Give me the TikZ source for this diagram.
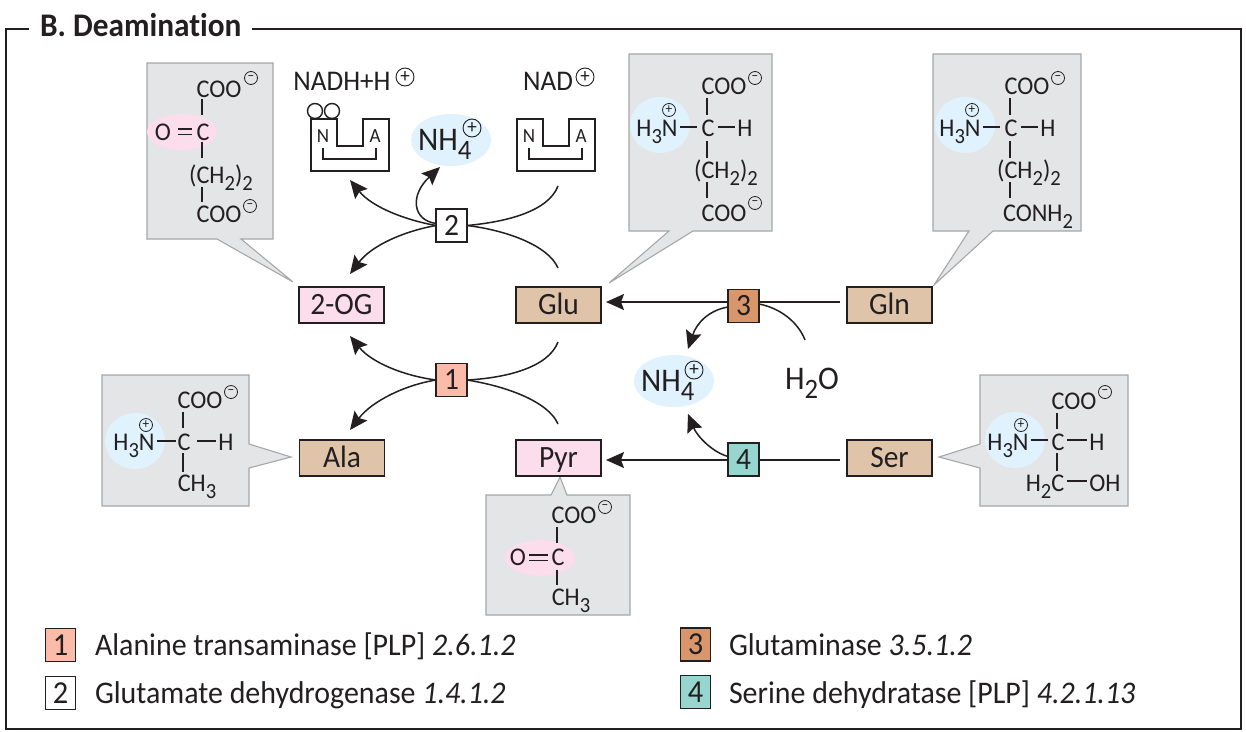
\documentclass[tikz,border=0pt]{standalone}
\usepackage{fontspec}
\setmainfont[FakeStretch=0.95,Ligatures=NoCommon]{Carlito}
\usetikzlibrary{arrows.meta,shapes.geometric}
\definecolor{ink}{HTML}{231F20}
\definecolor{pinkbox}{HTML}{FBDDEC}
\definecolor{tanbox}{HTML}{E0C4AA}
\definecolor{salmon}{HTML}{FBBBA9}
\definecolor{orangebox}{HTML}{D9966B}
\definecolor{tealbox}{HTML}{97D6CF}
\definecolor{greyfill}{HTML}{E4E5E7}
\definecolor{greyline}{HTML}{A5A7A9}
\definecolor{halo}{HTML}{DFF2FD}
\newcommand\sbs[1]{\raisebox{-.3em}{\scalebox{.85}{#1}}}
\newcommand\fs[1]{\fontsize{#1pt}{#1pt}\selectfont}
\tikzset{
  x=1pt,y=-1pt,
  every node/.style={text=ink,inner sep=0pt,outer sep=0pt},
  metab/.style={draw=ink,line width=1.2pt,minimum width=85pt,minimum height=36pt,text height=19pt,text depth=0pt,font=\fs{31}},
  enz/.style={draw=ink,line width=1.1pt,minimum width=31pt,minimum height=33pt,text height=19pt,text depth=0pt,font=\fs{31}},
  legbox/.style={draw=ink,line width=1.1pt,minimum width=30pt,minimum height=33pt,text height=20pt,text depth=0pt,font=\fs{32}},
  legtext/.style={anchor=base west,font=\fs{31.5}},
  chem/.style={text height=16pt,text depth=0pt,font=\fs{25.5}},
  lab/.style={text height=17pt,text depth=0pt,font=\fs{28.5}},
  minusc/.style={circle,draw=ink,line width=.8pt,minimum size=13pt,font=\fs{14}},
  plusc/.style={circle,draw=ink,line width=.8pt,minimum size=13pt,font=\fs{14}},
  plusb/.style={circle,draw=ink,line width=.9pt,minimum size=18pt,font=\fs{20}},
  callout/.style={draw=greyline,fill=greyfill,line width=1.1pt,line join=miter},
  bond/.style={draw=ink,line width=1.5pt},
  flow/.style={draw=ink,line width=1.5pt},
  flowtip/.style={flow,-{Stealth[length=18pt,width=16pt,inset=3pt]}},
  halon/.style={ellipse,fill=halo,minimum width=60pt,minimum height=56pt},
  oxo/.style={ellipse,fill=pinkbox,minimum width=70pt,minimum height=36pt},
  bigamm/.style={ellipse,fill=halo,minimum width=80pt,minimum height=52pt},
  nh/.style={anchor=base west,font=\fs{33}},
  enzy/.style={draw=ink,line width=1.6pt,line join=miter},
  enzi/.style={draw=ink,line width=1.2pt},
  cof/.style={circle,draw=ink,line width=1.4pt,minimum size=15pt},
  nalet/.style={font=\fs{20},text height=12pt,text depth=0pt}
}
\begin{document}
\begin{tikzpicture}
\useasboundingbox (0,0) rectangle (1246,731);
\fill[white] (0,0) rectangle (1246,731);
% frame
\draw[draw=ink,line width=2pt,line join=miter] (29,29) -- (6,29) -- (6,729) -- (1241,729) -- (1241,29) -- (252,29);
\node[anchor=base west,font=\fs{33}\bfseries] (title) at (40,36) {B. Deamination};
% callouts
\draw[callout] (147,63) -- (273,63) -- (273,239) -- (241,239) -- (293,282) -- (217,239) -- (147,239) -- cycle;
\draw[callout] (629,54) -- (772,54) -- (772,231) -- (693,231) -- (609,283) -- (669,231) -- (629,231) -- cycle;
\draw[callout] (933,54) -- (1081,54) -- (1081,231) -- (993,231) -- (934,285) -- (969,231) -- (933,231) -- cycle;
\draw[callout] (102,375) -- (249,375) -- (249,444) -- (291,457) -- (249,468) -- (249,506) -- (102,506) -- cycle;
\draw[callout] (486,495) -- (551,495) -- (560,477) -- (567,495) -- (630,495) -- (630,615) -- (486,615) -- cycle;
\draw[callout] (980,375) -- (1128,375) -- (1128,506) -- (980,506) -- (980,468) -- (939,457) -- (980,444) -- cycle;
% halos
\node[oxo] (ogoxo) at (182,132) {};
\node[oxo] (pyroxo) at (540,558) {};
\node[halon] (gluh) at (660,125) {};
\node[halon] (glnh) at (965,125) {};
\node[halon] (alah) at (135,441) {};
\node[halon] (serh) at (1015,440) {};
\node[bigamm] (amma) at (451,140) {};
\node[bigamm] (ammb) at (674,381) {};
% 2-OG formula
\node[chem] (ogc1) at (219,89) {COO};
\node[minusc] (ogm1) at (251,78) {−};
\draw[bond] (202,99) -- (202,115);
\node[chem] (ogo) at (163,132) {O};
\draw[bond] (178,129) -- (192,129) (178,134.5) -- (192,134.5);
\node[chem] (ogc) at (203,132) {C};
\draw[bond] (202,142) -- (202,158);
\node[chem] (ogch) at (221,175) {(CH\sbs{2})\sbs{2}};
\draw[bond] (202,187) -- (202,202);
\node[chem] (ogc2) at (219,214) {COO};
\node[minusc] (ogm2) at (250,206) {−};
% Glu formula
\node[chem] (guc1) at (724,86) {COO};
\node[minusc] (gum1) at (755,78) {−};
\draw[bond] (707,98) -- (707,115);
\node[chem] (gun) at (657,128) {H\sbs{3}N};
\node[plusc] (gup) at (669,110) {+};
\draw[bond] (680,127) -- (697,127);
\node[chem] (guc) at (708,128) {C};
\draw[bond] (718,127) -- (735,127);
\node[chem] (guh) at (745,128) {H};
\draw[bond] (707,141) -- (707,158);
\node[chem] (guch) at (726,170) {(CH\sbs{2})\sbs{2}};
\draw[bond] (707,182) -- (707,198);
\node[chem] (guc2) at (724,213) {COO};
\node[minusc] (gum2) at (755,203) {−};
% Gln formula
\node[chem] (gnc1) at (1027,86) {COO};
\node[minusc] (gnm1) at (1058,78) {−};
\draw[bond] (1010,98) -- (1010,115);
\node[chem] (gnn) at (960,128) {H\sbs{3}N};
\node[plusc] (gnp) at (972,110) {+};
\draw[bond] (983,127) -- (1000,127);
\node[chem] (gnc) at (1011,128) {C};
\draw[bond] (1021,127) -- (1038,127);
\node[chem] (gnh) at (1048,128) {H};
\draw[bond] (1010,141) -- (1010,158);
\node[chem] (gnch) at (1029,170) {(CH\sbs{2})\sbs{2}};
\draw[bond] (1010,182) -- (1010,198);
\node[chem] (gnc2) at (1038,213) {CONH\sbs{2}};
% Ala formula
\node[chem] (alc1) at (200,400) {COO};
\node[minusc] (alm1) at (231,392) {−};
\draw[bond] (183,412) -- (183,428);
\node[chem] (aln) at (134,442) {H\sbs{3}N};
\node[plusc] (alp) at (146,425) {+};
\draw[bond] (157,441) -- (176,441);
\node[chem] (alc) at (184,442) {C};
\draw[bond] (197,441) -- (216,441);
\node[chem] (alhh) at (226,442) {H};
\draw[bond] (183,453) -- (183,472);
\node[chem] (alc3) at (197,483) {CH\sbs{3}};
% Pyr formula
\node[chem] (pyc1) at (574,515) {COO};
\node[minusc] (pym1) at (605,507) {−};
\draw[bond] (557,527) -- (557,543);
\node[chem] (pyo) at (518,557) {O};
\draw[bond] (529,555) -- (548,555) (529,560.5) -- (548,560.5);
\node[chem] (pyc) at (558,557) {C};
\draw[bond] (557,570) -- (557,585);
\node[chem] (pyc3) at (571,597) {CH\sbs{3}};
% Ser formula
\node[chem] (sec1) at (1074,401) {COO};
\node[minusc] (sem1) at (1105,392) {−};
\draw[bond] (1057,413) -- (1057,429);
\node[chem] (sen) at (1008,442) {H\sbs{3}N};
\node[plusc] (sep) at (1021,425) {+};
\draw[bond] (1031,440) -- (1048,440);
\node[chem] (sec) at (1058,442) {C};
\draw[bond] (1067,440) -- (1087,440);
\node[chem] (seh) at (1097,442) {H};
\draw[bond] (1057,453) -- (1057,471);
\node[chem] (sec3) at (1045,483) {H\sbs{2}C};
\draw[bond] (1067,481) -- (1087,481);
\node[chem] (seoh) at (1105,483) {OH};
% cofactors
\node[lab] (nadh) at (342,82) {NADH+H};
\node[plusb] (nadhp) at (405,77) {+};
\node[lab] (nad) at (548,82) {NAD};
\node[plusb] (nadp) at (585,77) {+};
\draw[enzy] (311,119) -- (337,119) -- (337,146) -- (363,146) -- (363,119) -- (389,119) -- (389,171) -- (311,171) -- cycle;
\draw[enzi] (323,148) -- (323,159) -- (376,159) -- (376,148);
\node[nalet] (nl) at (323,136) {N};
\node[nalet] (al) at (375,136) {A};
\node[cof] (cofa) at (315,111) {};
\node[cof] (cofb) at (332,111) {};
\draw[enzy] (517,119) -- (543,119) -- (543,146) -- (569,146) -- (569,119) -- (595,119) -- (595,171) -- (517,171) -- cycle;
\draw[enzi] (529,148) -- (529,159) -- (582,159) -- (582,148);
\node[nalet] (nr) at (529,136) {N};
\node[nalet] (ar) at (581,136) {A};
\coordinate (nadhb) at (350,180);
\coordinate (nadb) at (558,186);
% ammonium
\node[nh] (nha) at (418,150) {NH\sbs{4}};
\node[plusb] (nhap) at (472,128) {+};
\node[nh] (nhb) at (641,391) {NH\sbs{4}};
\node[plusb] (nhbp) at (694,370) {+};
\node[font=\fs{33},text height=20pt,text depth=0pt] (water) at (812,379) {H\sbs{2}O};
% metabolites
\node[metab,fill=pinkbox] (og) at (341.5,305) {2-OG};
\node[metab,fill=tanbox] (glu) at (558.5,305) {Glu};
\node[metab,fill=tanbox] (gln) at (889.5,305) {Gln};
\node[metab,fill=tanbox] (ala) at (342,458) {Ala};
\node[metab,fill=pinkbox] (pyr) at (558.5,458) {Pyr};
\node[metab,fill=tanbox] (ser) at (889.5,458) {Ser};
% enzymes
\node[enz,fill=salmon] (e1) at (451.5,380) {1};
\node[enz,fill=white] (e2) at (451.5,225.5) {2};
\node[enz,fill=orangebox] (e3) at (743.5,306) {3};
\node[enz,fill=tealbox] (e4) at (743.5,459.5) {4};
% free ends
\coordinate (nh4atip) at (440,167);
\coordinate (nh4b1) at (688,349);
\coordinate (nh4b2) at (688,414);
\coordinate (waterend) at (805,340);
\coordinate (ogtip2) at (350,274);
\coordinate (gluend) at (558,268);
\coordinate (ogtip1) at (350,336);
\coordinate (alatip) at (350,430);
\coordinate (gluend1) at (558,342);
\coordinate (pyrend) at (558,424);
% enzyme 2
\draw[flowtip] (e2.west) .. controls (405,220) and (372,207) .. (nadhb);
\draw[flowtip] ([yshift=2pt]e2.west) .. controls (412,220) and (410,195) .. (nh4atip);
\draw[flowtip] (e2.west) .. controls (405,231) and (372,245) .. (ogtip2);
\draw[flow] (e2.east) .. controls (505,222) and (548,212) .. (nadb);
\draw[flow] (e2.east) .. controls (505,230) and (548,245) .. (gluend);
% enzyme 1
\draw[flowtip] (e1.west) .. controls (405,376) and (372,363) .. (ogtip1);
\draw[flowtip] (e1.west) .. controls (405,385) and (372,401) .. (alatip);
\draw[flow] (e1.east) .. controls (505,378) and (548,368) .. (gluend1);
\draw[flow] (e1.east) .. controls (505,386) and (548,401) .. (pyrend);
% enzyme 3
\draw[flow,shorten <=7pt] ([yshift=3pt]gln.west) -- ([yshift=3pt]gln.west -| e3.east);
\draw[flowtip,shorten >=5pt] ([yshift=3pt]glu.east -| e3.west) -- ([yshift=3pt]glu.east);
\draw[flowtip] ([yshift=-1pt]e3.west) .. controls (710,310) and (697,322) .. (nh4b1);
\draw[flow] ([yshift=2pt]e3.east) .. controls (780,308) and (798,322) .. (waterend);
% enzyme 4
\draw[flow,shorten <=7pt] ([yshift=-2pt]ser.west) -- ([yshift=-2pt]ser.west -| e4.east);
\draw[flowtip,shorten >=5pt] ([yshift=-2pt]pyr.east -| e4.west) -- ([yshift=-2pt]pyr.east);
\draw[flowtip] ([yshift=3pt]e4.west) .. controls (712,452) and (697,436) .. (nh4b2);
% legend
\node[legbox,fill=salmon] (l1) at (60.5,645) {1};
\node[legbox,fill=white] (l2) at (60.5,693) {2};
\node[legbox,fill=orangebox] (l3) at (695.5,644.5) {3};
\node[legbox,fill=tealbox] (l4) at (695.5,692) {4};
\node[legtext] (t1) at (95,655) {Alanine transaminase [PLP] \textit{2.6.1.2}};
\node[legtext] (t2) at (95,703) {Glutamate dehydrogenase \textit{1.4.1.2}};
\node[legtext] (t3) at (729,655) {Glutaminase \textit{3.5.1.2}};
\node[legtext] (t4) at (729,703) {Serine dehydratase [PLP] \textit{4.2.1.13}};
\end{tikzpicture}
\end{document}
